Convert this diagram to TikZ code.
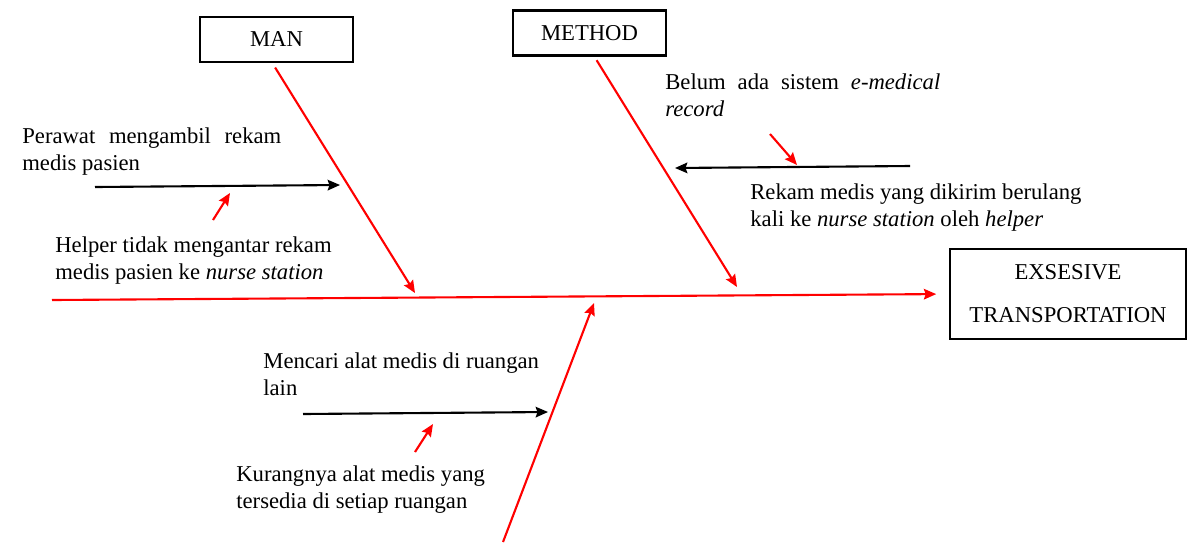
\documentclass[tikz,border=0pt]{standalone}
\usepackage{fontspec}
\setmainfont{Liberation Serif}
\usetikzlibrary{arrows.meta, positioning}

\begin{document}
\begin{tikzpicture}[x=0.02cm, y=-0.02cm, >={Stealth[length=7pt, width=6pt, inset=1pt]},
        every node/.style={font=\fontsize{12.9}{15.4}\selectfont},
        box/.style={draw, line width=1.5pt, minimum width=3.06cm, minimum height=0.9cm},
        cause/.style={anchor=north west, inner sep=0pt, align=left},
        bone/.style={->, draw=red, line width=1.2pt},
        sub/.style={->, draw=black, line width=1.2pt}]
        \useasboundingbox (0,0) rectangle (1189,542);

        \node[box] (man) at (276.5,39.5) {MAN};
        \node[box] (method) at (589.5,33) {METHOD};
        \node[box, minimum width=4.72cm, minimum height=1.8cm, align=center] (effect) at (1068,294) {EXSESIVE\\[9pt]TRANSPORTATION};

        \coordinate (tail) at (52,300);
        \coordinate (mantip) at (415,293);
        \coordinate (methodtip) at (737,287);
        \coordinate (root) at (503,542);
        \coordinate (roottip) at (594,303);

        \draw[bone, shorten >=0.25cm] (tail) -- (effect.west);
        \draw[bone, shorten <=0.1cm] ([xshift=-0.08cm]man.south) -- (mantip);
        \draw[bone, shorten <=0.08cm] ([xshift=0.1cm]method.south) -- (methodtip);
        \draw[bone] (root) -- (roottip);

        \node[cause, text width=5.18cm, align=justify] (c1) at (22,127) {Perawat mengambil rekam\linebreak medis pasien};
        \node[cause] (c2) at (55,236) {Helper tidak mengantar rekam\\medis pasien ke \textit{nurse station}};
        \node[cause, text width=5.5cm, align=justify] (c3) at (665,73) {Belum ada sistem \textit{e-medical}\linebreak \textit{record}};
        \node[cause] (c4) at (750,183) {Rekam medis yang dikirim berulang\\kali ke \textit{nurse station} oleh \textit{helper}};
        \node[cause] (c5) at (263,352) {Mencari alat medis di ruangan\\lain};
        \node[cause] (c6) at (236,465) {Kurangnya alat medis yang\\tersedia di setiap ruangan};

        \coordinate (a1) at (95,187);
        \coordinate (b1) at (340,185);
        \coordinate (a2) at (910,166);
        \coordinate (b2) at (675,168);
        \coordinate (a3) at (303,414);
        \coordinate (b3) at (548,412);
        \draw[sub] (a1) -- (b1);
        \draw[sub] (a2) -- (b2);
        \draw[sub] (a3) -- (b3);

        \coordinate (r1) at (213,220);
        \coordinate (s1) at (230,193);
        \coordinate (r2) at (770,134);
        \coordinate (s2) at (797,165);
        \coordinate (r3) at (415,452);
        \coordinate (s3) at (433,424);
        \draw[bone] (r1) -- (s1);
        \draw[bone] (r2) -- (s2);
        \draw[bone] (r3) -- (s3);
    \end{tikzpicture}
\end{document}
